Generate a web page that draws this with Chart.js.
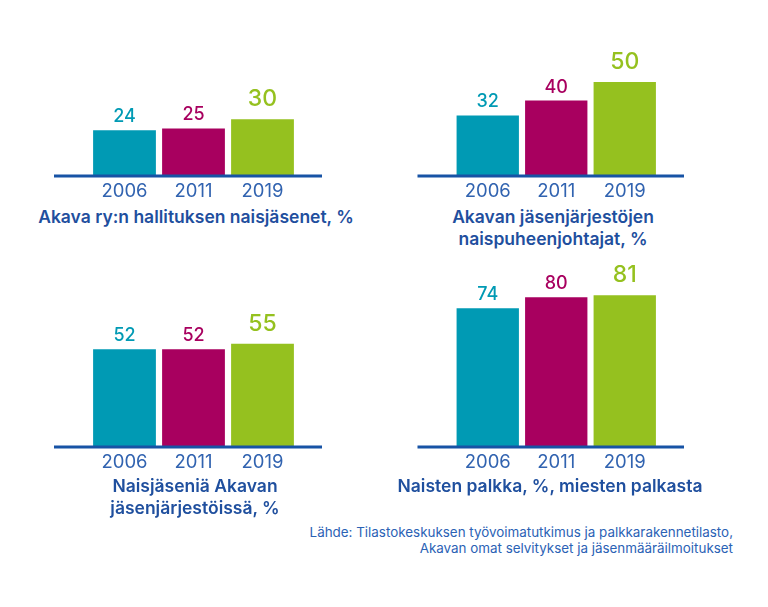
<!DOCTYPE html>
<html>
<head>
<meta charset="utf-8">
<script src="https://cdn.jsdelivr.net/npm/chart.js@4"></script>
<style>
  body { margin: 0; background: #fff; }
  #wrap { position: relative; width: 768px; height: 607px; overflow: hidden; font-family: Inter, "Noto Sans", sans-serif; }
  canvas { position: absolute; }
  .caption { position: absolute; width: 380px; text-align: center; color: #1f4f9e; font-weight: 600; font-size: 17.5px; line-height: 22px; }
  .source { position: absolute; right: 35px; top: 524px; text-align: right; color: #2b62b5; font-size: 13.4px; line-height: 16px; }
</style>
</head>
<body>
<div id="wrap">
  <canvas id="c1" width="300" height="210"></canvas>
  <canvas id="c2" width="300" height="210"></canvas>
  <canvas id="c3" width="300" height="210"></canvas>
  <canvas id="c4" width="300" height="210"></canvas>
  <div class="caption" style="left:6px; top:206px;">Akava ry:n hallituksen naisjäsenet, %</div>
  <div class="caption" style="left:363px; top:206px;">Akavan jäsenjärjestöjen<br>naispuheenjohtajat, %</div>
  <div class="caption" style="left:5px; top:475px;">Naisjäseniä Akavan<br>jäsenjärjestöissä, %</div>
  <div class="caption" style="left:360px; top:475px;">Naisten palkka, %, miesten palkasta</div>
  <div class="source">Lähde: Tilastokeskuksen työvoimatutkimus ja palkkarakennetilasto,<br>Akavan omat selvitykset ja jäsenmääräilmoitukset</div>
</div>
<script>
// years shown under every panel
const years = ['2006', '2011', '2019'];

// values per panel, in %
const boardWomen = [24, 25, 30];
const chairWomen = [32, 40, 50];
const memberWomen = [52, 52, 55];
const payRatio = [74, 80, 81];

const barColors = ['#009ab4', '#a8005f', '#95c11f'];
const axisBlue = '#1753a5';
const tickBlue = '#3163b0';
const FONT = 'Inter, "Noto Sans", sans-serif';
const PX_PER_UNIT = 1.84;

//draws the thick base line a bit wider than the bars
const baseLine = {
    id: 'baseLine',
    afterDatasetsDraw(chart) {
        const ctx = chart.ctx;
        const y = chart.scales.y.getPixelForValue(0) + 1;
        ctx.save();
        ctx.strokeStyle = axisBlue;
        ctx.lineWidth = 3;
        ctx.beginPath();
        ctx.moveTo(chart.chartArea.left - 36, y);
        ctx.lineTo(chart.chartArea.right + 25, y);
        ctx.stroke();
        ctx.restore();
    }
};

//value labels above each bar, the last one bigger
const valueLabels = {
    id: 'valueLabels',
    afterDatasetsDraw(chart) {
        const ctx = chart.ctx;
        const meta = chart.getDatasetMeta(0);
        const data = chart.data.datasets[0].data;
        ctx.save();
        ctx.textAlign = 'center';
        ctx.textBaseline = 'alphabetic';
        meta.data.forEach((bar, i) => {
            const last = i === data.length - 1;
            ctx.fillStyle = barColors[i];
            ctx.font = (last ? '500 23px ' : '500 18px ') + FONT;
            ctx.fillText(String(data[i]), bar.x, bar.y - (last ? 13 : 8));
        });
        ctx.restore();
    }
};

function makePanel(id, values, left, top, areaLeft, areaRight, baselineY, yMax) {
    const canvas = document.getElementById(id);
    const width = 300;
    const axisH = 30;
    const areaH = yMax * PX_PER_UNIT;
    const padTop = baselineY - top - areaH;
    const height = baselineY - top + axisH + 2;
    canvas.width = width;
    canvas.height = height;
    canvas.style.left = left + 'px';
    canvas.style.top = top + 'px';

    new Chart(canvas.getContext('2d'), {
        type: 'bar',
        data: {
            labels: years,
            datasets: [{
                data: values,
                backgroundColor: barColors,
                borderWidth: 0,
                barPercentage: 0.91,
                categoryPercentage: 1.0
            }]
        },
        options: {
            responsive: false,
            animation: false,
            layout: {
                padding: { left: areaLeft - left, right: width - (areaRight - left), top: padTop, bottom: 0 }
            },
            plugins: { legend: { display: false }, tooltip: { enabled: false } },
            scales: {
                x: {
                    grid: { display: false, drawTicks: false },
                    border: { display: false },
                    ticks: { color: tickBlue, font: { family: FONT, size: 18.5 }, padding: 5 },
                    afterFit(scale) { scale.height = axisH; }
                },
                y: { display: false, min: 0, max: yMax }
            }
        },
        plugins: [baseLine, valueLabels]
    });
}

makePanel('c1', boardWomen, 40, 0, 90, 297, 173, 90);
makePanel('c2', chairWomen, 400, 0, 453.5, 659, 173, 90);
makePanel('c3', memberWomen, 40, 250, 90, 297, 444, 100);
makePanel('c4', payRatio, 400, 250, 453.5, 659, 444, 100);
</script>
</body>
</html>
